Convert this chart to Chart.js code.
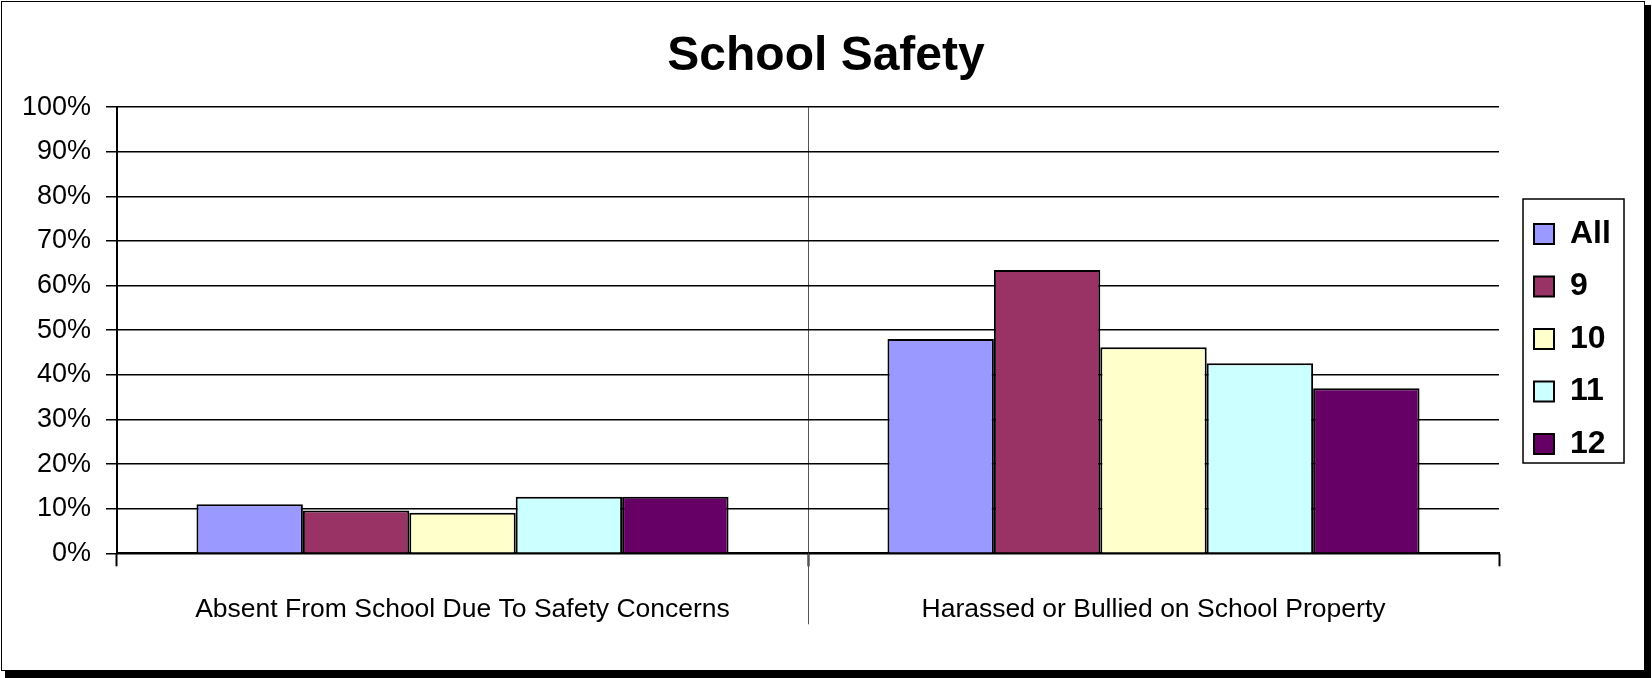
<!DOCTYPE html>
<html>
<head>
<meta charset="utf-8">
<title>School Safety</title>
<script src="https://cdn.jsdelivr.net/npm/chart.js@4/dist/chart.umd.min.js"></script>
<style>
  html, body { margin: 0; padding: 0; background: #fff; overflow: hidden; }
  canvas { display: block; }
</style>
</head>
<body>
<canvas id="schoolSafety" width="1652" height="678"></canvas>
<script>
// School Safety - percent of students, by grade

let kategori = ['Absent From School Due To Safety Concerns', 'Harassed or Bullied on School Property'];
let labelKelas = ['All', '9', '10', '11', '12'];
let nilaiAll = [11.0, 48.0];
let nilai9 = [9.6, 63.5];
let nilai10 = [9.1, 46.2];
let nilai11 = [12.7, 42.6];
let nilai12 = [12.7, 37.0];
let warna = ['#9999FF', '#993366', '#FFFFCC', '#CCFFFF', '#660066'];
let tickY = [0, 10, 20, 30, 40, 50, 60, 70, 80, 90, 100];

let semuaNilai = [nilaiAll, nilai9, nilai10, nilai11, nilai12];
let fontFam = '"Liberation Sans", Arial, sans-serif';

let inputData = {
  labels: kategori,
  datasets: labelKelas.map((lbl, i) => ({
    label: lbl,
    data: semuaNilai[i],
    backgroundColor: warna[i],
    borderColor: '#000',
    borderWidth: 2,
    categoryPercentage: 0.77,
    barPercentage: 1.0
  }))
};

// empty axis used only as a spacer box
let spasi = (lebar, berat) => ({
  type: 'linear',
  position: 'right',
  display: true,
  weight: berat,
  grid: { display: false, drawOnChartArea: false },
  border: { display: false },
  ticks: { display: false },
  afterFit: s => { s.width = lebar; }
});

// frame with shadow, legend border, long middle divider
let bingkai = {
  id: 'bingkai',
  beforeDraw(chart) {
    const c = chart.ctx;
    c.save();
    c.fillStyle = '#fff';
    c.fillRect(0, 0, chart.width, chart.height);
    c.fillStyle = '#000';
    c.fillRect(1645, 5, 6, 673);
    c.fillRect(5, 671, 1646, 7);
    c.strokeStyle = '#000';
    c.lineWidth = 1;
    c.strokeRect(1.5, 1.5, 1643, 669);
    c.restore();
  },
  afterDraw(chart) {
    const c = chart.ctx;
    const hb = chart.legend.legendHitBoxes;
    if (hb && hb.length) {
      const first = hb[0], last = hb[hb.length - 1];
      const x0 = first.left - 11, x1 = first.left + 90;
      const y0 = first.top + first.height / 2 - 35;
      const y1 = last.top + last.height / 2 + 19;
      c.save();
      c.strokeStyle = '#000';
      c.lineWidth = 1.5;
      c.strokeRect(x0, y0, x1 - x0, y1 - y0);
      c.restore();
    }
    const xs = chart.scales.x;
    const mid = (xs.getPixelForValue(0) + xs.getPixelForValue(1)) / 2;
    c.save();
    c.strokeStyle = '#555';
    c.lineWidth = 1;
    c.beginPath();
    c.moveTo(Math.round(mid) + 0.5, xs.top);
    c.lineTo(Math.round(mid) + 0.5, xs.top + 71);
    c.stroke();
    c.restore();
  }
};

let ctxChart = document.getElementById('schoolSafety');
let myChart = new Chart(ctxChart, {
  type: 'bar',
  data: inputData,
  plugins: [bingkai],
  options: {
    responsive: false,
    animation: false,
    devicePixelRatio: 1,
    layout: { padding: 0 },
    plugins: {
      title: {
        display: true,
        text: 'School Safety',
        color: '#000',
        font: { family: fontFam, size: 48, weight: 'bold', lineHeight: 1.2 },
        padding: { top: 28, bottom: 21.5 }
      },
      legend: {
        display: true,
        position: 'right',
        align: 'center',
        labels: {
          color: '#000',
          font: { family: fontFam, size: 32, weight: 'bold' },
          boxWidth: 20,
          boxHeight: 20,
          padding: 20.5
        }
      },
      tooltip: { enabled: false }
    },
    scales: {
      x: {
        grid: {
          offset: true,
          color: ctx => ctx.index === 1 ? '#555' : 'rgba(0,0,0,0)',
          lineWidth: 1,
          tickColor: '#000',
          tickWidth: 2,
          tickLength: 13
        },
        border: { display: true, color: '#000', width: 2 },
        ticks: {
          color: '#000',
          font: { family: fontFam, size: 26.5 },
          padding: 27,
          maxRotation: 0
        },
        afterFit: s => { s.height = 124.7; }
      },
      y: {
        min: 0,
        max: 100,
        afterBuildTicks: s => { s.ticks = tickY.map(v => ({ value: v })); },
        grid: {
          color: '#000',
          lineWidth: 1.5,
          tickColor: '#000',
          tickLength: 11
        },
        border: { display: true, color: '#000', width: 2 },
        ticks: {
          color: '#000',
          font: { family: fontFam, size: 27 },
          padding: 15,
          callback: v => v + '%'
        },
        afterFit: s => { s.width = 117; }
      },
      spasiDalam: spasi(14.5, 0),
      spasiLuar: spasi(31.1, 2000)
    }
  }
});
</script>
</body>
</html>
